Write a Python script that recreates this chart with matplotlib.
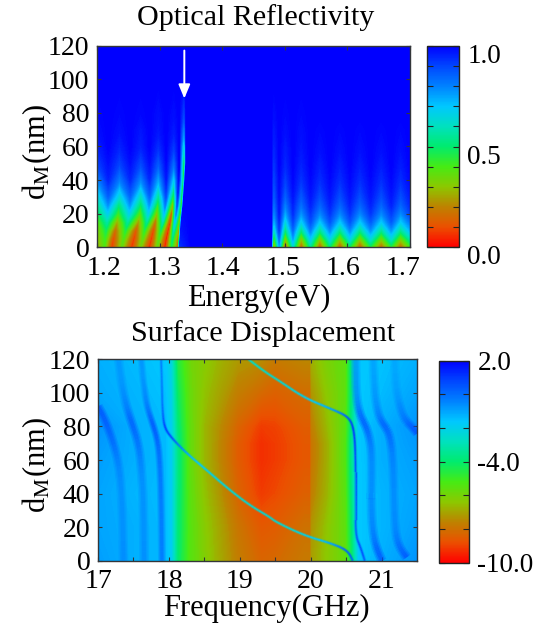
import numpy as np
import matplotlib
matplotlib.use('Agg')
import matplotlib.pyplot as plt
from matplotlib.cm import ScalarMappable
from matplotlib.collections import LineCollection
from matplotlib.colors import LinearSegmentedColormap, Normalize
from matplotlib.transforms import ScaledTranslation

# Optical reflectivity: rows of thickness, columns follow the fringes
refl_d = [0, 5, 10, 15, 20, 25, 30, 40, 50, 60, 70, 80, 100, 120]
# fringe minima below the stop band (energy per row)
centre_b = [1.2235, 1.226, 1.229, 1.232, 1.234, 1.235, 1.236, 1.236, 1.236, 1.236, 1.236, 1.236, 1.236, 1.236]
centre_c = [1.2554, 1.259, 1.262, 1.266, 1.2687, 1.27, 1.27, 1.27, 1.27, 1.27, 1.27, 1.27, 1.27, 1.27]
centre_d = [1.2836, 1.287, 1.29, 1.293, 1.2954, 1.297, 1.298, 1.298, 1.298, 1.298, 1.298, 1.298, 1.298, 1.298]
centre_e = [1.3087, 1.311, 1.314, 1.317, 1.3193, 1.321, 1.322, 1.323, 1.323, 1.323, 1.323, 1.323, 1.323, 1.323]
centre_f = [1.329, 1.33, 1.331, 1.332, 1.3335, 1.335, 1.336, 1.338, 1.3395, 1.3395, 1.3395, 1.3395, 1.3395, 1.3395]
# reflectivity at the fringes and in the gaps between them
r_a = [.25, .27, .3, .36, .45, .53, .62, .78, .9, .95, .98, .99, 1, 1]
r_ab = [.38, .41, .47, .56, .67, .77, .85, .95, .98, 1, 1, 1, 1, 1]
r_b = [.06, .08, .14, .25, .4, .5, .62, .8, .9, .95, .98, .99, 1, 1]
r_bc = [.35, .38, .45, .55, .66, .76, .84, .94, .98, 1, 1, 1, 1, 1]
r_c = [.05, .06, .1, .22, .36, .47, .58, .78, .89, .95, .97, .99, 1, 1]
r_cd = [.32, .36, .44, .54, .66, .76, .84, .94, .98, 1, 1, 1, 1, 1]
r_d = [.04, .05, .07, .15, .28, .4, .52, .73, .86, .93, .97, .98, 1, 1]
r_de = [.34, .38, .46, .58, .7, .8, .88, .96, .99, 1, 1, 1, 1, 1]
r_e = [.02, .01, .01, .03, .1, .25, .4, .65, .82, .91, .96, .98, 1, 1]
r_ef = [.45, .5, .58, .68, .78, .86, .92, .98, 1, 1, 1, 1, 1, 1]
r_f = [.15, .15, .2, .25, .3, .33, .35, .4, .35, .55, .75, .88, .97, 1]
r_band = [.92, .95, .97, .98, .99, 1, 1, 1, 1, 1, 1, 1, 1, 1]
# fringes above the stop band
right_energy = [1.482, 1.491, 1.5005, 1.513, 1.526, 1.541, 1.556, 1.572, 1.588, 1.604, 1.62, 1.637, 1.654, 1.67, 1.685, 1.7]
right_r = [
    [.1, .72, .06, .6, .12, .52, .12, .48, .12, .45, .12, .44, .14, .42, .14, .38],
    [.35, .82, .28, .74, .28, .68, .3, .65, .3, .65, .3, .63, .32, .62, .32, .56],
    [.55, .9, .48, .83, .5, .8, .52, .78, .52, .78, .52, .77, .53, .76, .53, .72],
    [.68, .93, .62, .89, .66, .88, .68, .87, .68, .87, .68, .86, .68, .86, .68, .82],
    [.75, .96, .72, .93, .76, .92, .78, .92, .78, .92, .78, .92, .78, .91, .78, .9],
    [.8, .97, .79, .95, .82, .95, .84, .95, .84, .95, .84, .95, .84, .95, .84, .94],
    [.84, .98, .84, .97, .86, .97, .88, .97, .88, .97, .88, .97, .88, .97, .88, .96],
    [.88, .99, .9, .99, .92, .99, .93, .99, .93, .99, .93, .99, .93, .99, .93, .99],
    [.91, 1, .94, 1, .95, 1, .96, 1, .96, 1, .96, 1, .96, 1, .96, 1],
    [.94, 1, .96, 1, .97, 1, .98, 1, .98, 1, .98, 1, .98, 1, .98, 1],
    [.96, 1, .98, 1, .98, 1, .99, 1, .99, 1, .99, 1, .99, 1, .99, 1],
    [.98, 1, .99, 1, .99, 1, 1, 1, 1, 1, 1, 1, 1, 1, 1, 1],
    [1, 1, 1, 1, 1, 1, 1, 1, 1, 1, 1, 1, 1, 1, 1, 1],
    [1, 1, 1, 1, 1, 1, 1, 1, 1, 1, 1, 1, 1, 1, 1, 1],
]

# Surface displacement background
disp_freq = [17, 17.5, 17.95, 18.03, 18.12, 18.3, 18.5, 18.74, 18.97, 19.3, 19.5, 19.92, 19.99, 20.01, 20.22, 20.49, 20.58, 20.68, 21, 21.5]
disp_d = [0, 20, 40, 60, 70, 80, 100, 120]
disp_val = [
    [-0.9, -1.2, -1.4, -1.9, -4.0, -5.5, -6.2, -7.0, -7.7, -8.3, -8.2, -7.8, -7.8, -7.1, -6.4, -5.7, -4.2, -1.6, -1.2, -0.7],
    [-1.0, -1.2, -1.4, -1.9, -3.9, -5.5, -6.3, -7.1, -7.9, -8.6, -8.5, -8.0, -8.0, -7.3, -6.5, -5.6, -4.0, -1.6, -1.3, -0.9],
    [-1.0, -1.3, -1.4, -1.9, -3.8, -5.6, -6.5, -7.4, -8.3, -9.1, -8.9, -8.4, -8.4, -7.7, -6.8, -5.5, -3.8, -1.6, -1.3, -1.0],
    [-0.9, -1.2, -1.4, -1.9, -3.7, -5.7, -6.7, -7.6, -8.5, -9.3, -9.1, -8.6, -8.6, -7.9, -6.9, -5.4, -3.6, -1.6, -1.2, -0.9],
    [-0.8, -1.2, -1.4, -1.9, -3.7, -5.7, -6.7, -7.6, -8.5, -9.3, -9.1, -8.6, -8.6, -7.9, -6.9, -5.4, -3.6, -1.6, -1.2, -0.8],
    [-0.7, -1.2, -1.4, -2.0, -3.9, -5.7, -6.7, -7.5, -8.3, -9.1, -9.0, -8.5, -8.5, -7.7, -6.7, -5.5, -3.7, -1.6, -1.2, -0.7],
    [-1.1, -1.3, -1.5, -2.1, -4.2, -5.8, -6.5, -7.1, -7.7, -8.2, -8.4, -8.1, -8.1, -7.3, -6.4, -5.6, -3.8, -1.6, -1.4, -1.0],
    [-1.2, -1.4, -1.6, -2.3, -4.6, -5.9, -6.3, -6.8, -7.2, -7.4, -7.8, -7.5, -7.5, -6.8, -6.1, -5.6, -3.6, -1.6, -1.5, -1.2],
]

# Resonance branches of the displacement map: frequency, thickness, value
branch_0 = ([17.0, 17.1, 17.22, 17.3, 17.34, 17.36], [92, 84, 70, 56, 36, 0], [0.6, 0.6, 0.2, -0.4, -0.6, -0.5])
branch_1 = ([17.29, 17.33, 17.4, 17.47, 17.57, 17.61, 17.64, 17.65], [120, 106, 92, 83, 70, 56, 36, 0], [-0.7, -0.7, -0.2, 0.6, 0.1, -0.4, -0.6, -0.5])
branch_2 = ([17.61, 17.64, 17.69, 17.76, 17.84, 17.87, 17.89, 17.9], [120, 106, 92, 83, 72, 60, 36, 0], [-0.6, -0.6, -0.1, 0.8, 0.6, 0.2, 0.0, 0.0])
branch_a = ([20.63, 20.64, 20.7, 20.78, 20.84, 20.86, 20.85, 20.88, 20.93, 21.0], [120, 97, 86, 80, 71, 60, 31, 15, 7, 0], [-0.7, -0.5, 0.5, 0.6, 0.0, -0.4, -0.4, -0.1, 0.6, 0.6])
branch_b = ([20.88, 20.9, 20.95, 21.01, 21.11, 21.16, 21.18, 21.23, 21.35], [120, 99, 87, 82, 76, 60, 21, 9, 2], [-0.9, -0.7, -0.2, 0.5, 0.3, -0.4, -0.5, 0.2, 0.7])
branch_c = ([21.18, 21.2, 21.3, 21.42, 21.5], [120, 101, 85, 80, 76], [-1.0, -0.9, -0.1, 0.6, 0.7])
lower_line = ([17.89, 17.9, 17.91, 17.94, 18.04, 18.25, 18.53, 18.86, 19.14, 19.42, 19.51, 19.91, 20.31, 20.52, 20.59],
              [120, 106, 88, 79, 73, 64, 54, 42, 33, 26, 23, 15, 10, 6, 0],
              [-0.4, -0.4, -0.1, 1.0, 0.6, -1.2, -1.9, -2.4, -2.4, -2.4, -2.4, -2.2, -1.0, 0.4, 0.2])
upper_line = ([19.12, 19.37, 19.56, 19.91, 20.31, 20.52, 20.6, 20.63, 20.63, 20.63, 20.7, 20.76],
              [120, 112, 107, 97, 90, 86, 80, 66, 36, 15, 8, 0],
              [-2.6, -2.5, -2.4, -2.0, -1.0, 0.4, 1.0, 0.6, 0.1, 0.1, 0.6, 0.4])

# tick label shifts of the upper panel, pixels
energy_label_shift = [6.5, 4, 1, -1.5, -4.5, -7]

cbar_colors = ['#ff0000', '#eb5000', '#be8200', '#8cc800', '#46eb14', '#00eb6e', '#00e1be', '#00c8ff', '#0082ff', '#0046ff', '#0000ff']

plt.rcParams['font.family'] = ['Liberation Serif', 'DejaVu Serif']
plt.rcParams['mathtext.fontset'] = 'stix'

W, H = 534, 627
cmap = LinearSegmentedColormap.from_list('refl', cbar_colors, N=256)
AXIS_COLOR = '#33363a'


def px_axes(fig, left, top, right, bottom):
    return fig.add_axes([left / W, 1 - bottom / H, (right - left) / W, (bottom - top) / H])


def style_axes(ax):
    for s in ax.spines.values():
        s.set_color(AXIS_COLOR)
        s.set_linewidth(1.0)
    ax.tick_params(which='both', direction='in', top=True, right=True, length=3,
                   width=0.8, color=AXIS_COLOR, labelsize=20, pad=5.5)
    ax.tick_params(axis='x', pad=6)


def corner_cut(pts, rounds=3):
    # rounds off the polyline between the points
    for _ in range(rounds):
        a, b = pts[:-1], pts[1:]
        mid = np.empty((2 * len(a), pts.shape[1]))
        mid[0::2] = 0.75 * a + 0.25 * b
        mid[1::2] = 0.25 * a + 0.75 * b
        pts = np.vstack([pts[:1], mid, pts[-1:]])
    return pts


def draw_ridge(ax, ridge, norm, width, passes):
    pts = corner_cut(np.column_stack(ridge))
    segs = np.stack([pts[:-1, :2], pts[1:, :2]], axis=1)
    vals = 0.5 * (pts[:-1, 2] + pts[1:, 2])
    for scale, alpha in passes:
        lc = LineCollection(segs, cmap=cmap, norm=norm, linewidths=width * scale,
                            alpha=alpha, capstyle='butt')
        lc.set_array(vals)
        ax.add_collection(lc)


def colorbar(fig, left, top, right, bottom, norm, ticks, minor, labels):
    cax = px_axes(fig, left, top, right, bottom)
    cb = fig.colorbar(ScalarMappable(norm=norm, cmap=cmap), cax=cax)
    cb.set_ticks(ticks, labels=labels)
    cb.set_ticks(minor, minor=True)
    cb.outline.set_edgecolor('#222222')
    cb.outline.set_linewidth(1.0)
    cax.tick_params(which='both', direction='in', left=True, right=True, length=4,
                    width=0.8, color='#222222', labelsize=19.5, pad=6)
    return cax


fig = plt.figure(figsize=(W / 100, H / 100), dpi=100)

# Top panel
refl_norm = Normalize(0, 1)
ax1 = px_axes(fig, 97, 45.5, 410, 247.3)
d_rows = np.array(refl_d, dtype=float)
n = len(refl_d)
cb_, cc_, cd_, ce_, cf_ = [np.array(c) for c in (centre_b, centre_c, centre_d, centre_e, centre_f)]
left_x = [np.full(n, 1.2), (1.2 + cb_) / 2, cb_, (cb_ + cc_) / 2, cc_, (cc_ + cd_) / 2, cd_,
          (cd_ + ce_) / 2, ce_, (ce_ + cf_) / 2, cf_, cf_ + 0.003, np.full(n, 1.35), np.full(n, 1.478)]
left_r = [r_a, r_ab, r_b, r_bc, r_c, r_cd, r_d, r_de, r_e, r_ef, r_f, r_band, np.ones(n), np.ones(n)]
X = np.column_stack(left_x + [np.full(n, e) for e in right_energy])
Z = np.column_stack([np.array(r, dtype=float) for r in left_r] + [np.array(right_r)])
Y = np.repeat(d_rows[:, None], X.shape[1], axis=1)
ax1.contourf(X, Y, Z, levels=np.linspace(0, 1, 201), cmap=cmap, norm=refl_norm, extend='both', antialiased=False)
ax1.set_xlim(1.2, 1.7)
ax1.set_ylim(0, 120)
ax1.set_xticks([1.2, 1.3, 1.4, 1.5, 1.6, 1.7])
ax1.set_yticks(range(0, 121, 20))
style_axes(ax1)
for lab, dx in zip(ax1.get_xticklabels(), energy_label_shift):
    lab.set_transform(lab.get_transform() + ScaledTranslation(dx / 100, 0, fig.dpi_scale_trans))
ax1.annotate('', xy=(1.3395, 88.5), xytext=(1.3395, 117),
             arrowprops=dict(arrowstyle='-|>,head_length=0.6,head_width=0.25', mutation_scale=14, color='white',
                             lw=1.4, shrinkA=0, shrinkB=0))
cax1 = colorbar(fig, 426.5, 45.7, 459, 247.3, refl_norm, [0, 0.5, 1.0], np.arange(0.1, 1.0, 0.1), ['0.0', '0.5', '1.0'])
for lab in cax1.get_yticklabels():
    lab.set_verticalalignment('top')
    lab.set_transform(lab.get_transform() + ScaledTranslation(0, 2 / 100, fig.dpi_scale_trans))

# Bottom panel
disp_norm = Normalize(-10, 2)
ax2 = px_axes(fig, 98, 359.3, 417.3, 560.7)
ax2.contourf(disp_freq, disp_d, np.array(disp_val), levels=np.linspace(-10, 2, 241), cmap=cmap, norm=disp_norm,
             extend='both', antialiased=False)
soft = [(1.0, 0.25), (0.7, 0.35), (0.4, 0.5)]
sharp = [(1.0, 0.2), (0.6, 0.5), (0.3, 0.9)]
for ridge in (branch_0, branch_1, branch_a, branch_b, branch_c):
    draw_ridge(ax2, ridge, disp_norm, 7, soft)
draw_ridge(ax2, branch_2, disp_norm, 5.5, soft)
draw_ridge(ax2, lower_line, disp_norm, 2.8, sharp)
draw_ridge(ax2, upper_line, disp_norm, 2.8, sharp)
ax2.set_xlim(17, 21.5)
ax2.set_ylim(0, 120)
ax2.set_xticks([17, 18, 19, 20, 21])
ax2.set_xticks(np.arange(17.5, 21.5, 1), minor=True)
ax2.set_yticks(range(0, 121, 20))
style_axes(ax2)
colorbar(fig, 439, 360.7, 469, 562.7, disp_norm, [-10, -4, 2], [-8, -6, -2, 0], ['-10.0', '-4.0', '2.0'])

# Titles and axis labels
ylabel = r'd$_{\mathrm{M}}$(nm)'
fig.text(256 / W, 1 - 18 / H, 'Optical Reflectivity', ha='center', va='center', fontsize=21.6)
fig.text(258.5 / W, 1 - 298 / H, 'Energy(eV)', ha='center', va='center', fontsize=22)
fig.text(37 / W, 1 - 152 / H, ylabel, rotation=90, ha='center', va='center', fontsize=22)
fig.text(263 / W, 1 - 334 / H, 'Surface Displacement', ha='center', va='center', fontsize=21.6)
fig.text(266 / W, 1 - 608 / H, 'Frequency(GHz)', ha='center', va='center', fontsize=22)
fig.text(37 / W, 1 - 465 / H, ylabel, rotation=90, ha='center', va='center', fontsize=22)

fig.savefig('out.png', dpi=100)
